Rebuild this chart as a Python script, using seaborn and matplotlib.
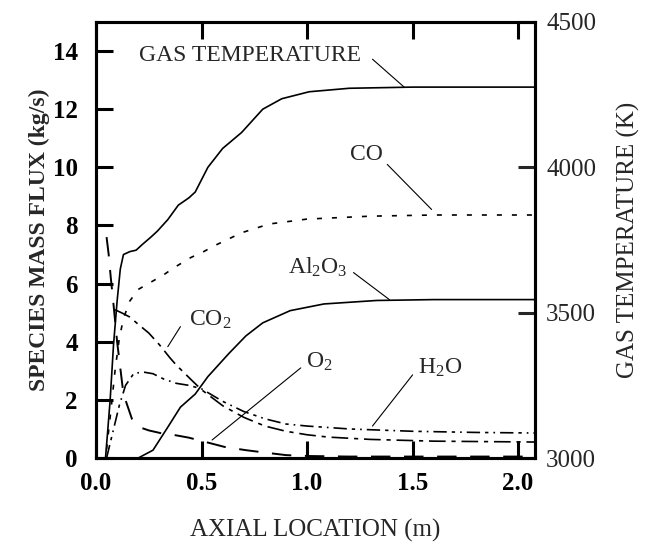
import matplotlib
matplotlib.use("Agg")
import matplotlib.pyplot as plt
import seaborn as sns

# ---------------- data ----------------
temp_x = [0.045, 0.055, 0.067, 0.083, 0.10, 0.115, 0.13, 0.16, 0.19, 0.22, 0.26, 0.29, 0.34,
          0.39, 0.44, 0.47, 0.53, 0.60, 0.69, 0.79, 0.88, 1.01, 1.20, 1.50, 2.08]
temp_K = [3000, 3090, 3200, 3390, 3540, 3650, 3700, 3710, 3715, 3735, 3760, 3780, 3820,
          3870, 3895, 3915, 4000, 4065, 4120, 4200, 4236, 4260, 4272, 4276, 4276]

co_x = [0.05, 0.07, 0.09, 0.11, 0.13, 0.16, 0.20, 0.26, 0.32, 0.37, 0.45, 0.51, 0.56, 0.69,
        0.82, 1.00, 1.30, 1.60, 2.08]
co_y = [0.3, 1.6, 3.0, 4.1, 4.8, 5.4, 5.8, 6.05, 6.3, 6.55, 6.9, 7.1, 7.3, 7.75,
        8.05, 8.22, 8.32, 8.36, 8.36]

al2o3_x = [0.20, 0.27, 0.34, 0.40, 0.47, 0.53, 0.63, 0.71, 0.79, 0.92, 1.08, 1.33, 1.60, 2.08]
al2o3_y = [0.0, 0.27, 1.06, 1.75, 2.2, 2.8, 3.6, 4.2, 4.65, 5.07, 5.3, 5.42, 5.45, 5.45]

co2_x = [0.09, 0.12, 0.16, 0.20, 0.25, 0.30, 0.35, 0.38, 0.45, 0.50, 0.60, 0.70, 0.80, 0.90,
         1.00, 1.10, 1.30, 1.60, 2.08]
co2_y = [5.1, 5.0, 4.85, 4.6, 4.3, 3.9, 3.45, 3.2, 2.7, 2.35, 1.8, 1.4, 1.1, 0.92,
         0.8, 0.72, 0.64, 0.58, 0.55]

h2o_x = [0.05, 0.08, 0.11, 0.14, 0.18, 0.23, 0.27, 0.32, 0.38, 0.44, 0.50, 0.60, 0.70, 0.80,
         0.90, 1.00, 1.20, 1.50, 1.80, 2.08]
h2o_y = [0.0, 0.9, 1.8, 2.5, 2.92, 2.95, 2.9, 2.72, 2.57, 2.5, 2.38, 1.95, 1.6, 1.35,
         1.17, 1.1, 1.0, 0.92, 0.88, 0.86]

o2_x = [0.05, 0.06, 0.07, 0.08, 0.10, 0.13, 0.17, 0.21, 0.25, 0.31, 0.38, 0.44, 0.52, 0.61,
        0.71, 0.82, 0.90, 1.00, 1.20, 1.50, 2.08]
o2_y = [7.6, 7.0, 6.2, 5.5, 4.0, 2.2, 1.35, 1.05, 0.95, 0.85, 0.78, 0.7, 0.55, 0.38,
        0.27, 0.17, 0.1, 0.07, 0.05, 0.05, 0.05]

x_ticks = [0.0, 0.5, 1.0, 1.5, 2.0]
x_ticklabels = ["0.0", "0.5", "1.0", "1.5", "2.0"]
flux_ticks = [0, 2, 4, 6, 8, 10, 12, 14]
temp_ticks = [3000, 3500, 4000, 4500]

# ---------------- style ----------------
sns.set_style("ticks")
plt.rcParams["font.family"] = ["Liberation Serif", "DejaVu Serif"]
plt.rcParams["mathtext.fontset"] = "custom"
plt.rcParams["mathtext.rm"] = "Liberation Serif"

fig = plt.figure(figsize=(6.47, 5.43), dpi=100)
ax = fig.add_axes([0.1484, 0.1565, 0.6785, 0.803])
ax2 = ax.twinx()

lw = 1.2
sns.lineplot(x=temp_x, y=temp_K, ax=ax2, color="black", linewidth=lw)
sns.lineplot(x=co_x, y=co_y, ax=ax, color="black", linewidth=lw, linestyle=(0, (3, 6)))
sns.lineplot(x=al2o3_x, y=al2o3_y, ax=ax, color="black", linewidth=lw)
sns.lineplot(x=co2_x, y=co2_y, ax=ax, color="black", linewidth=lw,
             linestyle=(0, (10, 3.5, 2.5, 3.5)))
sns.lineplot(x=h2o_x, y=h2o_y, ax=ax, color="black", linewidth=lw,
             linestyle=(0, (8, 3, 2, 3, 1, 3)))
sns.lineplot(x=o2_x, y=o2_y, ax=ax, color="black", linewidth=1.4, linestyle=(0, (10, 7)))

xmax = 2.08
ax.set_xlim(0, xmax)
ax.set_ylim(0, 15)
ax2.set_ylim(3000, 4500)

ax.set_xticks(x_ticks)
ax.set_xticklabels(x_ticklabels)
ax.set_yticks(flux_ticks)
ax2.set_yticks(temp_ticks)

for a in (ax, ax2):
    for s in a.spines.values():
        s.set_linewidth(2.2)
        s.set_color("black")

ax.tick_params(axis="both", direction="in", length=12, width=2.2, colors="black")
ax.tick_params(axis="x", top=True, pad=10, labelsize=18)
ax.tick_params(axis="y", right=False, pad=13, labelsize=18)
ax2.tick_params(axis="y", direction="in", length=12, width=2.2, pad=8, labelsize=18)

for lab in ax.get_xticklabels() + ax.get_yticklabels():
    lab.set_fontweight("bold")

ax.set_xlabel("AXIAL LOCATION (m)", fontsize=18, labelpad=17)
ax.set_ylabel("SPECIES MASS FLUX (kg/s)", fontsize=17, fontweight="bold", labelpad=2)
ax2.set_ylabel("GAS TEMPERATURE (K)", fontsize=18, labelpad=15)

# ---------------- annotations ----------------
fs = 17
lead = dict(arrowstyle="-", color="black", lw=0.8, shrinkA=0, shrinkB=0)
ax.text(0.73, 13.86, "GAS TEMPERATURE", fontsize=fs, ha="center", va="center")
ax.annotate("", xy=(1.46, 12.76), xytext=(1.31, 13.72), arrowprops=lead)
ax.text(1.28, 10.45, "CO", fontsize=fs, ha="center", va="center")
ax.annotate("", xy=(1.59, 8.55), xytext=(1.38, 10.1), arrowprops=lead)
ax.text(1.05, 6.55, r"Al$\mathregular{_2}$O$\mathregular{_3}$", fontsize=fs, ha="center", va="center")
ax.annotate("", xy=(1.39, 5.45), xytext=(1.22, 6.38), arrowprops=lead)
ax.text(0.54, 4.76, r"CO$\mathregular{_2}$", fontsize=fs, ha="center", va="center")
ax.annotate("", xy=(0.34, 3.83), xytext=(0.40, 4.52), arrowprops=lead)
ax.text(1.06, 3.31, r"O$\mathregular{_2}$", fontsize=fs, ha="center", va="center")
ax.annotate("", xy=(0.55, 0.62), xytext=(0.97, 3.1), arrowprops=lead)
ax.text(1.63, 3.1, r"H$\mathregular{_2}$O", fontsize=fs, ha="center", va="center")
ax.annotate("", xy=(1.31, 1.1), xytext=(1.50, 2.86), arrowprops=lead)

fig.savefig("out.png", dpi=100)
